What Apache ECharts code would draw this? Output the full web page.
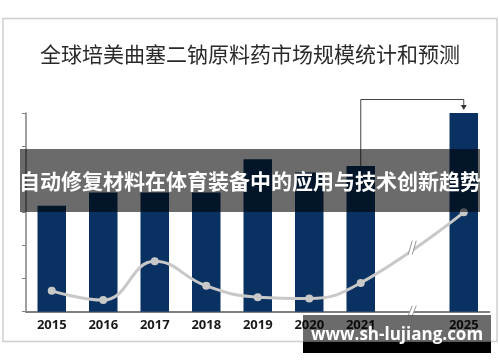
<!DOCTYPE html>
<html><head><meta charset="utf-8">
<script src="https://cdn.jsdelivr.net/npm/echarts@6/dist/echarts.min.js"></script>
<style>html,body{margin:0;padding:0;background:#fff}#c{width:500px;height:362px}</style>
</head><body><div id="c"></div>
<script>
const titleText = '全球培美曲塞二钠原料药市场规模统计和预测';
const bannerText = '自动修复材料在体育装备中的应用与技术创新趋势';
const watermarkText = 'www.sh-lujiang.com';
const categories = ['2015','2016','2017','2018','2019','2020','2021','','2025'];
const barValues = [3.2, 3.6, 3.6, 3.6, 4.6, 4.2, 4.4, null, 6.0];
const lineValues = [0.63, 0.35, 1.52, 0.78, 0.44, 0.40, 0.87, null, 3.0];

const chart = echarts.init(document.getElementById('c'), null, {renderer:'canvas'});
chart.setOption({
  animation:false,
  backgroundColor:'#fff',
  title:{text:titleText, left:'center', top:39,
    textStyle:{fontFamily:'Noto Sans CJK SC', fontSize:21, fontWeight:'normal', color:'#2a2a2a'}},
  grid:{left:26, right:10.5, top:113, bottom:50.3},
  xAxis:{type:'category', data:categories,
    axisLine:{lineStyle:{color:'#808080', width:2}},
    axisTick:{show:false},
    axisLabel:{fontFamily:'Open Sans', fontWeight:'bold', fontSize:13, color:'#1a1a1a', margin:7}},
  yAxis:{type:'value', min:0, max:6, interval:1,
    axisLine:{show:true, lineStyle:{color:'#808080', width:1.5}},
    axisTick:{show:true, length:4, lineStyle:{color:'#808080'}},
    axisLabel:{show:false}, splitLine:{show:false}},
  series:[
    {type:'bar', data:barValues, barWidth:28.5, itemStyle:{color:'#093262'}, z:2},
    {type:'line', data:lineValues, smooth:0.45, connectNulls:true, symbol:'circle', symbolSize:8,
      lineStyle:{color:'#c8c8c8', width:3}, itemStyle:{color:'#c8c8c8'}, z:3}
  ]
});

const p21 = chart.convertToPixel({seriesIndex:0}, [6, barValues[6]]);
const p25 = chart.convertToPixel({seriesIndex:0}, [8, barValues[8]]);
const pAx = chart.convertToPixel({xAxisIndex:0, yAxisIndex:0}, [7, 0]);
const l21 = chart.convertToPixel({seriesIndex:1}, [6, lineValues[6]]);
const l25 = chart.convertToPixel({seriesIndex:1}, [8, lineValues[8]]);
const lm = [(l21[0]+l25[0])/2, (l21[1]+l25[1])/2];
const arrowY = 99.5;

function breakMark(cx, cy, h){
  return [
    {type:'polygon', z:50, shape:{points:[[cx-4,cy+h],[cx,cy+h],[cx+4,cy-h],[cx,cy-h]]}, style:{fill:'#fff'}},
    {type:'line', z:51, shape:{x1:cx-4,y1:cy+h,x2:cx,y2:cy-h}, style:{stroke:'#999', lineWidth:1}},
    {type:'line', z:51, shape:{x1:cx,y1:cy+h,x2:cx+4,y2:cy-h}, style:{stroke:'#999', lineWidth:1}}
  ];
}

chart.setOption({
  graphic:[
    {type:'rect', z:-1, shape:{x:3, y:18.5, width:494, height:323}, style:{fill:'none', stroke:'#cfcfcf', lineWidth:1.5}},
    {type:'polyline', z:40, shape:{points:[[p21[0], p21[1]],[p21[0], arrowY],[p25[0], arrowY],[p25[0], p25[1]-7]]},
      style:{stroke:'#444', lineWidth:1, fill:'none'}},
    {type:'polygon', z:40, shape:{points:[[p25[0]-3, p25[1]-8],[p25[0]+3, p25[1]-8],[p25[0], p25[1]-3]]}, style:{fill:'#333'}},
    ...breakMark(pAx[0], pAx[1]-1, 5),
    ...breakMark(lm[0], lm[1], 7),
    {type:'rect', z:100, shape:{x:20, y:149, width:460, height:63}, style:{fill:'rgba(0,0,0,0.58)'}},
    {type:'text', z:101, x:250, y:181, style:{text:bannerText, fill:'#fff', font:'bold 21px "Noto Sans CJK SC"', textAlign:'center', textVerticalAlign:'middle'}},
    {type:'rect', z:100, shape:{x:303, y:315, width:188, height:27}, style:{fill:'rgba(0,0,0,0.58)'}},
    {type:'rect', z:100, shape:{x:303, y:342, width:188, height:11}, style:{fill:'#000'}},
    {type:'text', z:101, x:397, y:335, style:{text:watermarkText, fill:'#fff', font:'bold 17px "Open Sans"', textAlign:'center', textVerticalAlign:'middle'}}
  ]
});
</script></body></html>
